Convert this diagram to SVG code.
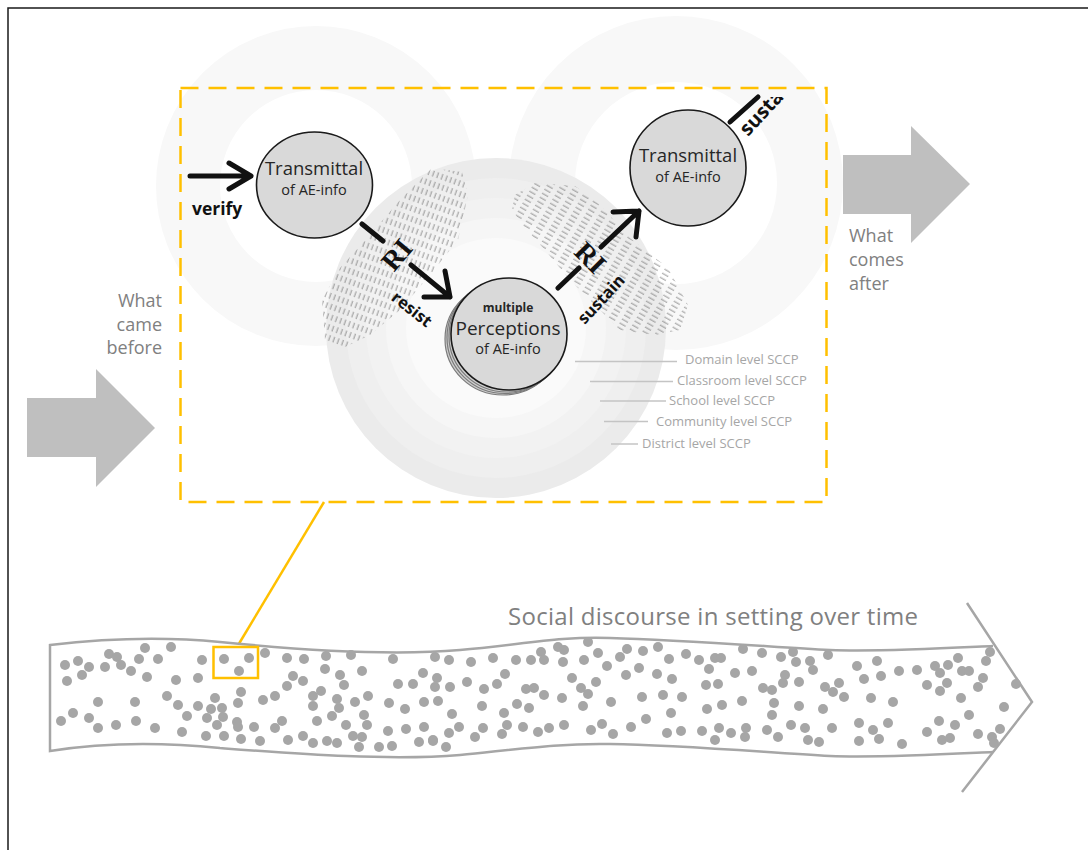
<svg xmlns="http://www.w3.org/2000/svg" width="1088" height="850" viewBox="0 0 1088 850">
<style>
.nd{fill:#d9d9d9;stroke:#1a1a1a;stroke-width:1.6}
.sh{fill:#cfcfcf;stroke:#7a7a7a;stroke-width:1.2}
.tx{font-family:'Open Sans','Liberation Sans',sans-serif;fill:#262626;text-anchor:middle}
.arr{stroke:#111;stroke-width:5;fill:none;stroke-linecap:round;stroke-linejoin:round}
.lbl{font-family:'Open Sans','Liberation Sans',sans-serif;font-weight:700;fill:#111}
.ri{font-family:'Liberation Serif',serif;font-size:28px;font-weight:700;fill:#111;text-anchor:middle}
.sccp{font-family:'Open Sans','Liberation Sans',sans-serif;font-size:13px;fill:#a6a6a6}
.sl{stroke:#c4c4c4;stroke-width:1.5}
.gt{font-family:'Open Sans','Liberation Sans',sans-serif;font-size:18px;fill:#808080}
.yl{stroke:#FFC000;stroke-width:2.5;fill:none}
.band{fill:#fff;stroke:#a6a6a6;stroke-width:2.5}
.dots circle{fill:#a6a6a6}
</style>
<defs>
<pattern id="hatchL" width="4.6" height="10" patternUnits="userSpaceOnUse" patternTransform="rotate(20)">
<line x1="2" y1="2" x2="2" y2="8" stroke="#7a7a7a" stroke-width="0.8"/>
</pattern>
<pattern id="hatchR" width="12" height="4.6" patternUnits="userSpaceOnUse" patternTransform="rotate(30)">
<line x1="2" y1="2" x2="9" y2="2" stroke="#7a7a7a" stroke-width="0.8"/>
</pattern>
<clipPath id="topclip"><rect x="0" y="97" width="1088" height="760"/></clipPath>
</defs>
<rect x="0" y="0" width="1088" height="850" fill="#fff"/>
<rect x="8" y="8" width="1200" height="1000" fill="none" stroke="#1a1a1a" stroke-width="1.5"/>

<g id="background">
<circle cx="316" cy="186" r="128" fill="none" stroke="#f8f8f8" stroke-width="64"/>
<circle cx="676" cy="183" r="134" fill="none" stroke="#f8f8f8" stroke-width="66"/>
<circle cx="496" cy="328" r="170" fill="#ebebeb"/>
<circle cx="496" cy="328" r="150" fill="#efefef"/>
<circle cx="496" cy="328" r="130" fill="#f2f2f2"/>
<circle cx="496" cy="328" r="110" fill="#f6f6f6"/>
<circle cx="496" cy="328" r="90" fill="#fafafa"/>
<polygon points="432,168 462,172 468,195 458,240 430,275 400,310 370,335 345,347 325,340 322,300 340,268 370,235 400,200" fill="url(#hatchL)"/>
<polygon points="515,195 535,183 575,186 600,205 630,238 668,268 688,305 680,330 655,335 620,330 595,305 570,280 545,250 525,228 512,210" fill="url(#hatchR)"/>
</g>

<g id="frame-box">
<rect class="yl" x="180.5" y="88" width="646" height="414" stroke-dasharray="18 10"/>
</g>

<g id="sccp-labels">
<line class="sl" x1="575" y1="361.5" x2="677" y2="361.5"/>
<text class="sccp" x="685" y="363.5">Domain level SCCP</text>
<line class="sl" x1="590" y1="381.5" x2="673" y2="381.5"/>
<text class="sccp" x="677" y="385">Classroom level SCCP</text>
<line class="sl" x1="600" y1="401" x2="666" y2="401"/>
<text class="sccp" x="669" y="405">School level SCCP</text>
<line class="sl" x1="604" y1="421.5" x2="648" y2="421.5"/>
<text class="sccp" x="656" y="426">Community level SCCP</text>
<line class="sl" x1="611" y1="444" x2="638" y2="444"/>
<text class="sccp" x="642" y="447.5">District level SCCP</text>
</g>

<g id="node-transmittal-1">
<ellipse class="nd" cx="314.5" cy="185" rx="58" ry="53"/>
<text class="tx" x="314" y="175" font-size="18.5">Transmittal</text>
<text class="tx" x="314" y="195" font-size="14.5">of AE-info</text>
</g>

<g id="node-transmittal-2">
<ellipse class="nd" cx="688" cy="168" rx="58" ry="58"/>
<text class="tx" x="688" y="162" font-size="18.5">Transmittal</text>
<text class="tx" x="688" y="182" font-size="14.5">of AE-info</text>
</g>

<g id="node-perceptions">
<ellipse class="sh" cx="503" cy="339" rx="58" ry="56"/>
<ellipse class="sh" cx="505" cy="337.5" rx="58" ry="56"/>
<ellipse class="sh" cx="507" cy="336" rx="58" ry="56"/>
<ellipse class="nd" cx="509" cy="334" rx="58" ry="56"/>
<text class="tx" x="508" y="312" font-size="12" font-weight="700">multiple</text>
<text class="tx" x="508" y="335" font-size="19">Perceptions</text>
<text class="tx" x="508" y="354" font-size="14.5">of AE-info</text>
</g>

<g id="connectors">
<path class="arr" d="M190,176 H251 M229,163 L251,176 L229,189"/>
<text class="lbl" x="192" y="215" font-size="17.5">verify</text>
<path class="arr" d="M362,224 L383,241 M411,265 L450,297 M445,271 L450,297 L424,297"/>
<text class="ri" transform="translate(397,255) rotate(-50)" y="9">RI</text>
<text class="lbl" font-size="16.5" text-anchor="middle" transform="translate(412,309) rotate(38)" y="6">resist</text>
<path class="arr" d="M558,288 L579,268 M601,247 L639,211 M613,212 L639,211 L636,237"/>
<text class="ri" transform="translate(590,258) rotate(45)" y="9">RI</text>
<text class="lbl" font-size="16.5" text-anchor="middle" transform="translate(601,299) rotate(-47)" y="6">sustain</text>
<path class="arr" d="M730,122 L758,97"/>
<g clip-path="url(#topclip)">
<text class="lbl" font-size="20" transform="translate(748,137) rotate(-47)">sustain</text>
</g>
<line class="yl" x1="324" y1="502" x2="237" y2="647"/>
</g>

<g id="what-came-before">
<polygon points="27,398 96,398 96,369 155,428 96,487 96,457 27,457" fill="#bfbfbf"/>
<text class="gt" text-anchor="end" x="162" y="307">What</text>
<text class="gt" text-anchor="end" x="162" y="330.5">came</text>
<text class="gt" text-anchor="end" x="162" y="354">before</text>
</g>

<g id="what-comes-after">
<polygon points="843,155 911,155 911,126 970,184 911,243 911,214 843,214" fill="#bfbfbf"/>
<text class="gt" x="849" y="242">What</text>
<text class="gt" x="849" y="266">comes</text>
<text class="gt" x="849" y="290">after</text>
</g>

<g id="discourse-band">
<path class="band" d="M993,646 C950,648 880,652 830,650 C760,646 680,640 610,638 C560,636 520,645 460,650 C390,656 300,650 220,642 C160,636 100,639 50,645 L50,751 C100,743 160,742 220,748 C300,754 390,761 460,755 C520,749 560,743 610,744 C680,745 760,752 830,756 C880,758 950,754 993,752"/>
<path d="M967,603 L1032,702 L962,792" fill="none" stroke="#a6a6a6" stroke-width="2.5"/>
<g class="dots">
<circle cx="65" cy="665" r="5"/><circle cx="78" cy="661" r="5"/><circle cx="89" cy="667" r="5"/><circle cx="67" cy="681" r="5"/><circle cx="82" cy="675" r="5"/><circle cx="105" cy="667" r="5"/><circle cx="109" cy="654" r="5"/><circle cx="117" cy="657" r="5"/><circle cx="121" cy="665" r="5"/><circle cx="131" cy="671" r="5"/><circle cx="139" cy="659" r="5"/><circle cx="145" cy="648" r="5"/><circle cx="147" cy="677" r="5"/><circle cx="158" cy="659" r="5"/><circle cx="171" cy="647" r="5"/><circle cx="176" cy="680" r="5"/><circle cx="198" cy="678" r="5"/><circle cx="202" cy="660" r="5"/><circle cx="224" cy="659" r="5"/><circle cx="249" cy="658" r="5"/><circle cx="239" cy="671" r="5"/><circle cx="265" cy="653" r="5"/><circle cx="287" cy="658" r="5"/><circle cx="304" cy="659" r="5"/><circle cx="326" cy="656" r="5"/><circle cx="351" cy="655" r="5"/><circle cx="393" cy="659" r="5"/><circle cx="435" cy="657" r="5"/><circle cx="325" cy="669" r="5"/><circle cx="362" cy="671" r="5"/><circle cx="293" cy="676" r="5"/><circle cx="287" cy="686" r="5"/><circle cx="303" cy="681" r="5"/><circle cx="340" cy="675" r="5"/><circle cx="344" cy="685" r="5"/><circle cx="423" cy="673" r="5"/><circle cx="398" cy="684" r="5"/><circle cx="413" cy="684" r="5"/><circle cx="435" cy="687" r="5"/>
<circle cx="98" cy="702" r="5"/><circle cx="135" cy="702" r="5"/><circle cx="167" cy="696" r="5"/><circle cx="178" cy="705" r="5"/><circle cx="198" cy="706" r="5"/><circle cx="215" cy="698" r="5"/><circle cx="211" cy="709" r="5"/><circle cx="222" cy="708" r="5"/><circle cx="241" cy="692" r="5"/><circle cx="238" cy="703" r="5"/><circle cx="263" cy="700" r="5"/><circle cx="275" cy="696" r="5"/><circle cx="313" cy="696" r="5"/><circle cx="321" cy="691" r="5"/><circle cx="313" cy="706" r="5"/><circle cx="337" cy="699" r="5"/><circle cx="339" cy="708" r="5"/><circle cx="355" cy="702" r="5"/><circle cx="368" cy="696" r="5"/><circle cx="389" cy="703" r="5"/><circle cx="405" cy="709" r="5"/><circle cx="424" cy="702" r="5"/>
<circle cx="61" cy="721" r="5"/><circle cx="73" cy="713" r="5"/><circle cx="89" cy="718" r="5"/><circle cx="98" cy="728" r="5"/><circle cx="116" cy="725" r="5"/><circle cx="136" cy="721" r="5"/><circle cx="155" cy="728" r="5"/><circle cx="187" cy="716" r="5"/><circle cx="207" cy="718" r="5"/><circle cx="223" cy="717" r="5"/><circle cx="217" cy="725" r="5"/><circle cx="237" cy="722" r="5"/><circle cx="238" cy="727" r="5"/><circle cx="254" cy="727" r="5"/><circle cx="275" cy="728" r="5"/><circle cx="282" cy="721" r="5"/><circle cx="317" cy="721" r="5"/><circle cx="332" cy="716" r="5"/><circle cx="346" cy="725" r="5"/><circle cx="364" cy="715" r="5"/><circle cx="367" cy="725" r="5"/>
<circle cx="182" cy="732" r="5"/><circle cx="206" cy="736" r="5"/><circle cx="224" cy="736" r="5"/><circle cx="241" cy="739" r="5"/><circle cx="260" cy="741" r="5"/><circle cx="288" cy="740" r="5"/><circle cx="303" cy="736" r="5"/><circle cx="313" cy="743" r="5"/><circle cx="327" cy="741" r="5"/><circle cx="337" cy="743" r="5"/><circle cx="353" cy="736" r="5"/><circle cx="362" cy="737" r="5"/><circle cx="359" cy="747" r="5"/><circle cx="379" cy="747" r="5"/><circle cx="392" cy="746" r="5"/><circle cx="388" cy="731" r="5"/><circle cx="406" cy="729" r="5"/><circle cx="424" cy="727" r="5"/><circle cx="419" cy="742" r="5"/><circle cx="433" cy="740" r="5"/>
<circle cx="449" cy="660" r="5"/><circle cx="471" cy="662" r="5"/><circle cx="493" cy="658" r="5"/><circle cx="516" cy="660" r="5"/><circle cx="531" cy="660" r="5"/><circle cx="541" cy="652" r="5"/><circle cx="544" cy="660" r="5"/><circle cx="558" cy="647" r="5"/><circle cx="564" cy="650" r="5"/><circle cx="563" cy="662" r="5"/><circle cx="588" cy="642" r="5"/><circle cx="584" cy="660" r="5"/><circle cx="598" cy="653" r="5"/><circle cx="607" cy="666" r="5"/><circle cx="620" cy="657" r="5"/><circle cx="627" cy="649" r="5"/><circle cx="643" cy="651" r="5"/><circle cx="658" cy="647" r="5"/><circle cx="669" cy="659" r="5"/><circle cx="686" cy="654" r="5"/><circle cx="699" cy="660" r="5"/><circle cx="709" cy="669" r="5"/><circle cx="715" cy="658" r="5"/><circle cx="721" cy="658" r="5"/>
<circle cx="437" cy="678" r="5"/><circle cx="505" cy="674" r="5"/><circle cx="497" cy="684" r="5"/><circle cx="467" cy="682" r="5"/><circle cx="450" cy="687" r="5"/><circle cx="484" cy="689" r="5"/><circle cx="526" cy="689" r="5"/><circle cx="534" cy="688" r="5"/><circle cx="544" cy="695" r="5"/><circle cx="572" cy="678" r="5"/><circle cx="581" cy="688" r="5"/><circle cx="588" cy="694" r="5"/><circle cx="596" cy="682" r="5"/><circle cx="626" cy="675" r="5"/><circle cx="639" cy="668" r="5"/><circle cx="657" cy="674" r="5"/><circle cx="672" cy="679" r="5"/><circle cx="706" cy="685" r="5"/><circle cx="718" cy="684" r="5"/><circle cx="735" cy="673" r="5"/>
<circle cx="438" cy="701" r="5"/><circle cx="452" cy="714" r="5"/><circle cx="482" cy="706" r="5"/><circle cx="504" cy="713" r="5"/><circle cx="517" cy="704" r="5"/><circle cx="529" cy="708" r="5"/><circle cx="562" cy="698" r="5"/><circle cx="583" cy="706" r="5"/><circle cx="611" cy="702" r="5"/><circle cx="642" cy="697" r="5"/><circle cx="663" cy="695" r="5"/><circle cx="682" cy="697" r="5"/><circle cx="671" cy="713" r="5"/><circle cx="707" cy="709" r="5"/><circle cx="722" cy="705" r="5"/>
<circle cx="433" cy="741" r="5"/><circle cx="446" cy="747" r="5"/><circle cx="449" cy="733" r="5"/><circle cx="459" cy="727" r="5"/><circle cx="475" cy="737" r="5"/><circle cx="483" cy="728" r="5"/><circle cx="502" cy="734" r="5"/><circle cx="507" cy="725" r="5"/><circle cx="523" cy="727" r="5"/><circle cx="538" cy="732" r="5"/><circle cx="549" cy="728" r="5"/><circle cx="564" cy="725" r="5"/><circle cx="591" cy="730" r="5"/><circle cx="602" cy="724" r="5"/><circle cx="613" cy="734" r="5"/><circle cx="631" cy="727" r="5"/><circle cx="646" cy="719" r="5"/><circle cx="667" cy="733" r="5"/><circle cx="681" cy="731" r="5"/><circle cx="702" cy="731" r="5"/><circle cx="715" cy="740" r="5"/><circle cx="719" cy="728" r="5"/><circle cx="731" cy="733" r="5"/>
<circle cx="743" cy="649" r="5"/><circle cx="762" cy="653" r="5"/><circle cx="781" cy="657" r="5"/><circle cx="793" cy="652" r="5"/><circle cx="796" cy="662" r="5"/><circle cx="810" cy="661" r="5"/><circle cx="813" cy="670" r="5"/><circle cx="828" cy="655" r="5"/><circle cx="857" cy="666" r="5"/><circle cx="877" cy="661" r="5"/><circle cx="864" cy="679" r="5"/><circle cx="881" cy="676" r="5"/><circle cx="899" cy="671" r="5"/><circle cx="917" cy="670" r="5"/><circle cx="935" cy="666" r="5"/><circle cx="940" cy="673" r="5"/><circle cx="948" cy="665" r="5"/><circle cx="958" cy="658" r="5"/><circle cx="962" cy="671" r="5"/><circle cx="969" cy="671" r="5"/><circle cx="986" cy="661" r="5"/><circle cx="990" cy="652" r="5"/><circle cx="983" cy="678" r="5"/><circle cx="978" cy="687" r="5"/><circle cx="947" cy="683" r="5"/><circle cx="940" cy="691" r="5"/><circle cx="927" cy="685" r="5"/><circle cx="1016" cy="684" r="5"/>
<circle cx="752" cy="671" r="5"/><circle cx="785" cy="675" r="5"/><circle cx="783" cy="683" r="5"/><circle cx="799" cy="682" r="5"/><circle cx="763" cy="688" r="5"/><circle cx="772" cy="690" r="5"/><circle cx="825" cy="687" r="5"/><circle cx="833" cy="692" r="5"/><circle cx="839" cy="683" r="5"/><circle cx="844" cy="697" r="5"/><circle cx="871" cy="698" r="5"/><circle cx="893" cy="702" r="5"/><circle cx="961" cy="698" r="5"/><circle cx="1004" cy="707" r="5"/><circle cx="969" cy="715" r="5"/>
<circle cx="742" cy="701" r="5"/><circle cx="774" cy="703" r="5"/><circle cx="772" cy="715" r="5"/><circle cx="799" cy="706" r="5"/><circle cx="823" cy="709" r="5"/>
<circle cx="745" cy="737" r="5"/><circle cx="746" cy="728" r="5"/><circle cx="767" cy="730" r="5"/><circle cx="778" cy="737" r="5"/><circle cx="791" cy="725" r="5"/><circle cx="805" cy="728" r="5"/><circle cx="808" cy="740" r="5"/><circle cx="819" cy="742" r="5"/><circle cx="832" cy="728" r="5"/><circle cx="859" cy="723" r="5"/><circle cx="859" cy="741" r="5"/><circle cx="873" cy="730" r="5"/><circle cx="879" cy="739" r="5"/><circle cx="888" cy="723" r="5"/><circle cx="902" cy="744" r="5"/><circle cx="927" cy="732" r="5"/><circle cx="939" cy="721" r="5"/><circle cx="942" cy="740" r="5"/><circle cx="950" cy="738" r="5"/><circle cx="955" cy="725" r="5"/><circle cx="978" cy="734" r="5"/><circle cx="992" cy="737" r="5"/><circle cx="1000" cy="729" r="5"/><circle cx="994" cy="743" r="5"/>
</g>
<text x="508" y="625" font-family="'Open Sans','Liberation Sans',sans-serif" font-size="24" fill="#808080" textLength="410">Social discourse in setting over time</text>
<rect class="yl" x="213.5" y="647" width="44.5" height="31"/>
</g>
</svg>
